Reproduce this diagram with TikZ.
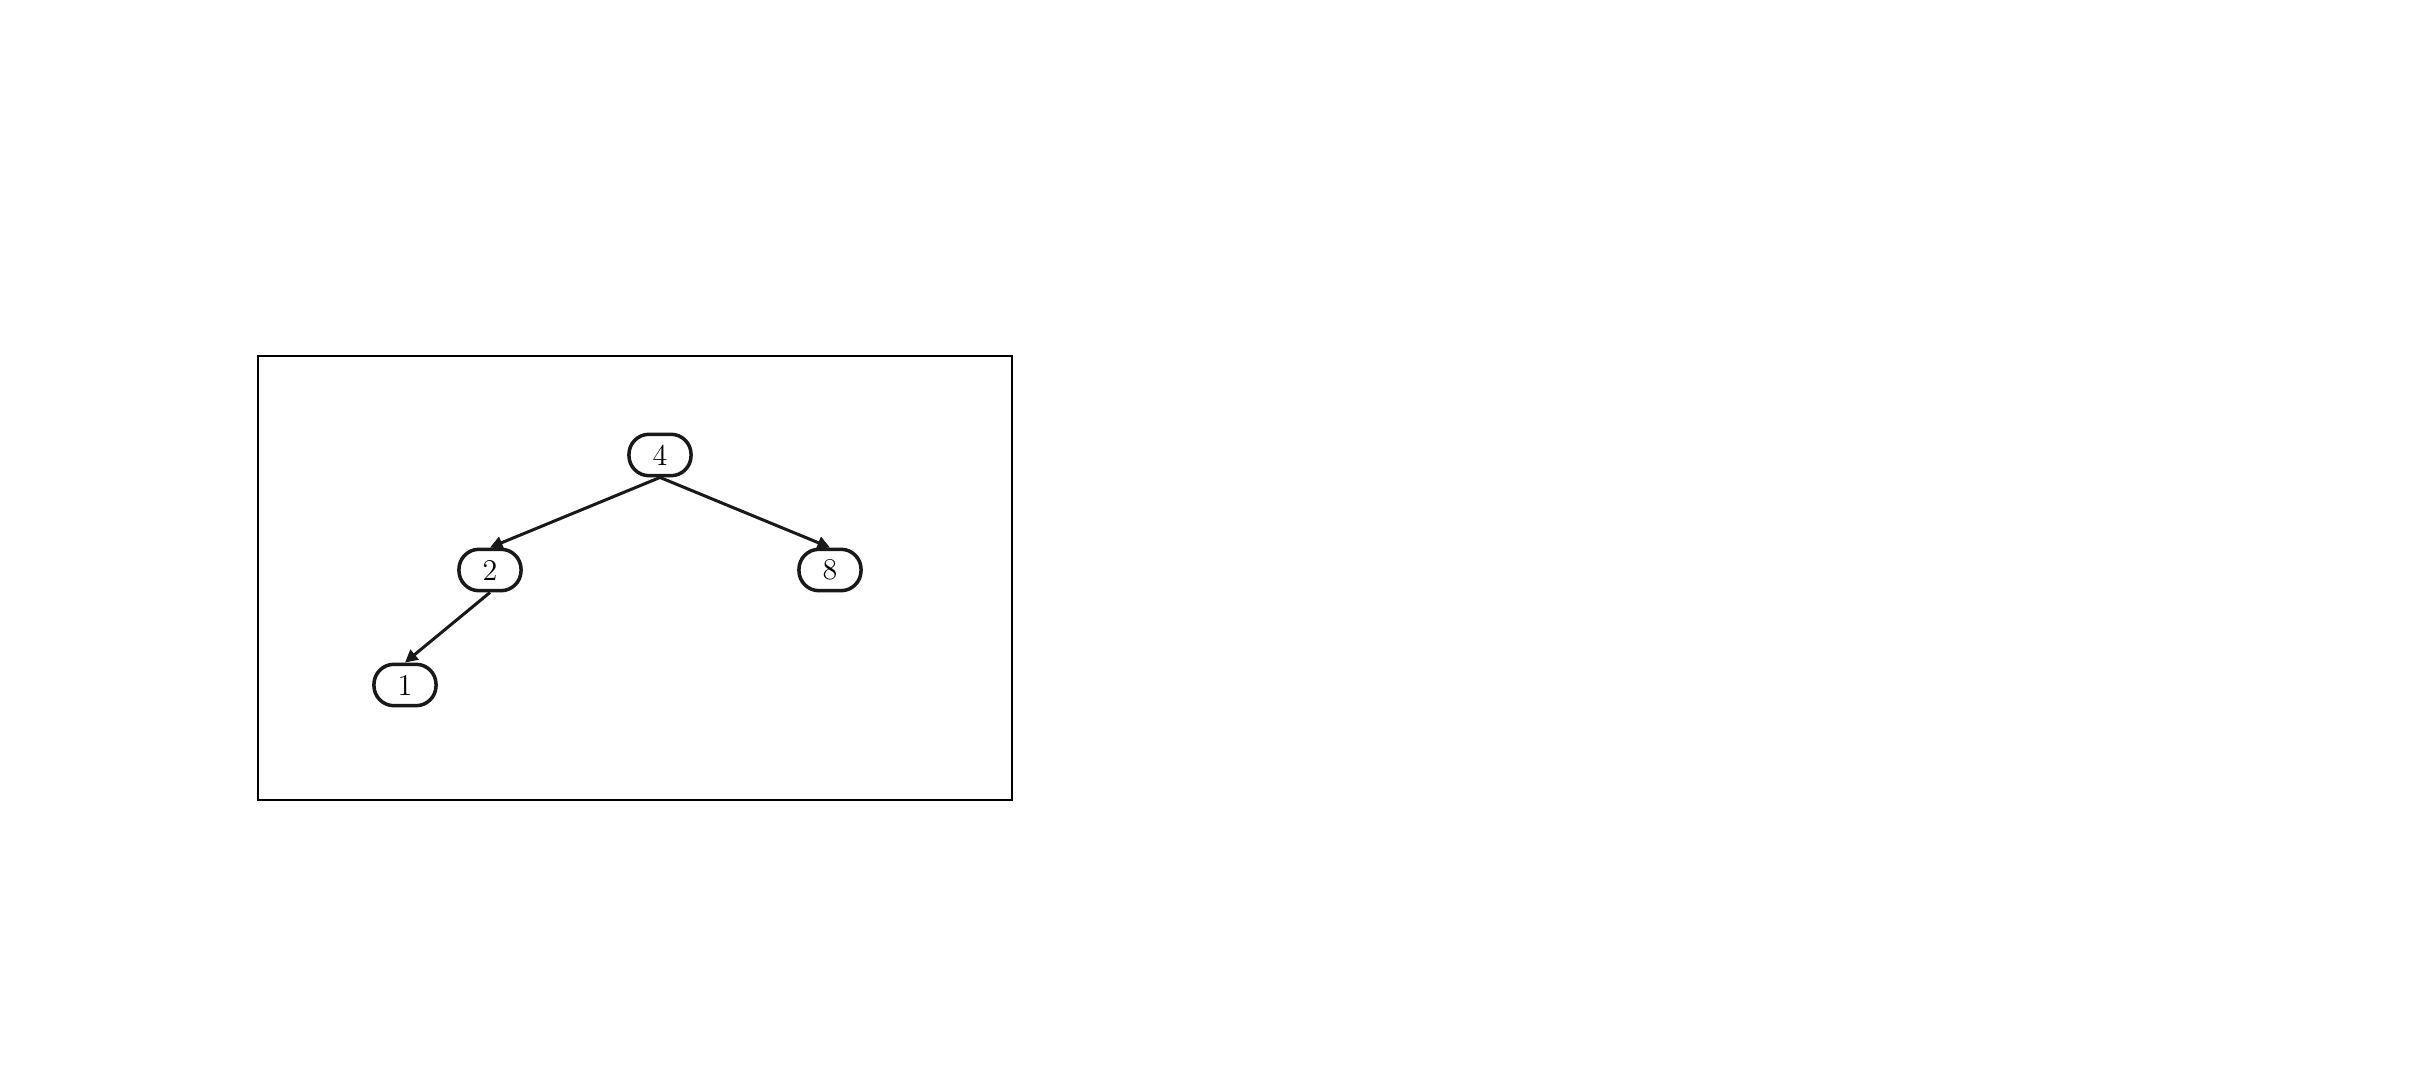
\documentclass[tikz,border=0pt]{standalone}
\usetikzlibrary{arrows.meta}

\begin{document}
\begin{tikzpicture}[x=0.014cm, y=-0.014cm,
	treenode/.style={draw=black!90, line width=1.4pt, rounded corners=8pt,
		minimum width=0.87cm, minimum height=0.58cm, inner sep=0pt,
		font=\fontsize{12}{14}\selectfont},
	treeedge/.style={draw=black!90, line width=1.2pt,
		-{Triangle[length=5pt, width=5pt]}}]
		\useasboundingbox (0,0) rectangle (2418,1065);
		\begin{scope}
		  \draw[line width=0.5pt] (258,356) rectangle (1012,800);

		  \node[treenode] (n4) at (660,455) {4};
		  \node[treenode] (n2) at (490,570) {2};
		  \node[treenode] (n8) at (830,570) {8};
		  \node[treenode] (n1) at (405,685) {1};

		  \draw[treeedge] (n4.south) -- (n2.north);
		  \draw[treeedge] (n4.south) -- (n8.north);
		  \draw[treeedge] (n2.south) -- (n1.north);
		\end{scope}
\end{tikzpicture}
\end{document}
